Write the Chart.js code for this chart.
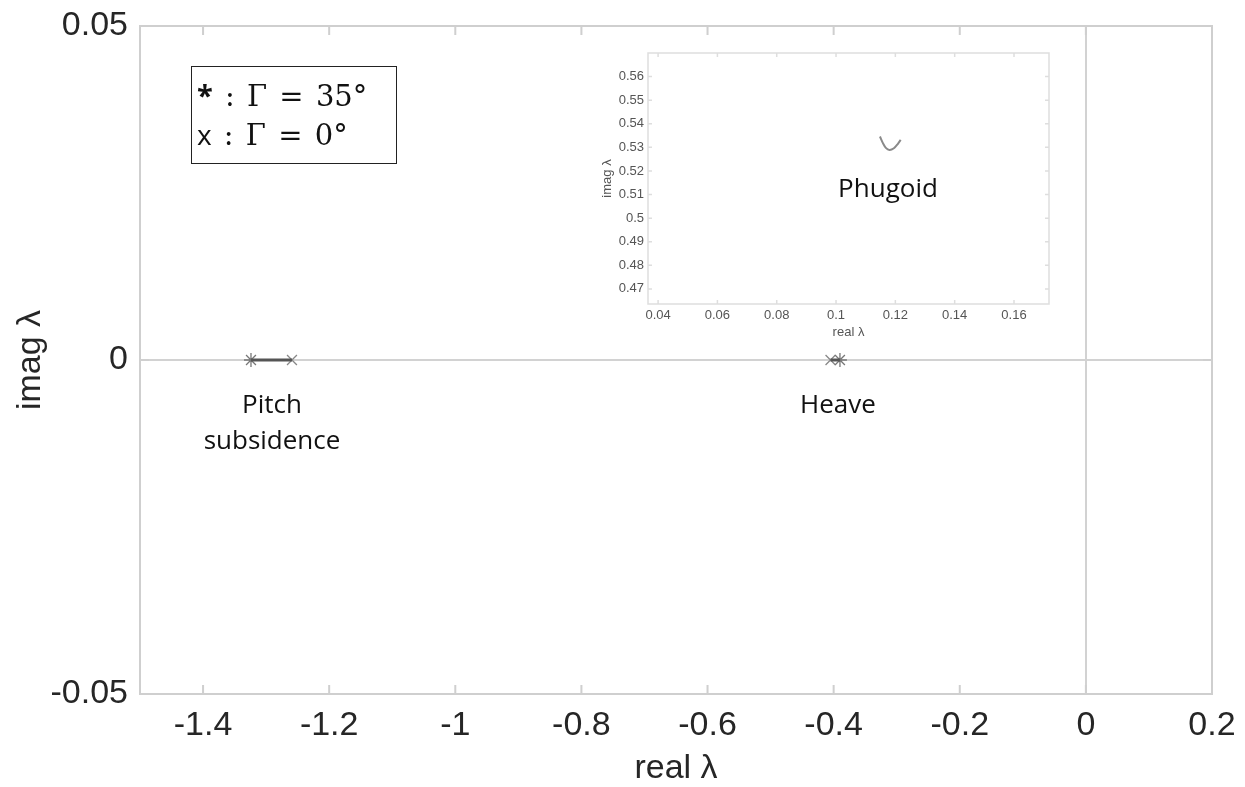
<!DOCTYPE html>
<html lang="en">
<head>
    <meta charset="UTF-8">
    <title>Longitudinal eigenvalues</title>
    <script src="https://cdn.jsdelivr.net/npm/chart.js"></script>
    <style>
        body { margin: 0; background: #fff; }
        #wrap { position: relative; width: 1245px; height: 787px; }
        #inset { position: absolute; left: 590px; top: 40px; }
        .note { position: absolute; font-family: "Open Sans", sans-serif; font-size: 26px; color: #111; text-align: center; line-height: 36px; white-space: nowrap; }
        #legendBox { position: absolute; left: 191px; top: 66px; width: 206px; height: 98px; box-sizing: border-box;
                     border: 1.5px solid #222; font-family: "DejaVu Serif", serif; font-size: 29px; color: #111;
                     padding: 9px 0 0 5px; line-height: 38px; white-space: nowrap; word-spacing: 3px; }
        #legendBox .sym { font-family: "Open Sans", sans-serif; }
    </style>
</head>
<body>
<div id="wrap">
    <canvas id="mainChart" width="1245" height="787"></canvas>
    <canvas id="inset" width="470" height="310"></canvas>
    <div id="legendBox"><div><b class="sym">*</b> : Γ = 35°</div><div><span class="sym" style="font-size:28px">x</span> : Γ = 0°</div></div>
    <div class="note" style="left:196px; top:385px; width:152px;">Pitch<br>subsidence</div>
    <div class="note" style="left:788px; top:385px; width:100px;">Heave</div>
    <div class="note" style="left:830px; top:169px; width:116px;">Phugoid</div>
</div>

<script>
    // real parts of the non-oscillatory modes (imag = 0)
    const modes = ['Pitch subsidence', 'Heave'];
    const realAt35 = [-1.324, -0.390];   // '*' markers, Gamma = 35 deg
    const realAt0 = [-1.259, -0.405];    // 'x' markers, Gamma = 0 deg

    // phugoid locus shown in the inset
    const phugoidReal = [0.1148, 0.1158, 0.1168, 0.1180, 0.1195, 0.1208, 0.1218];
    const phugoidImag = [0.5346, 0.5318, 0.5298, 0.5289, 0.5296, 0.5314, 0.5332];

    const xTicks = [-1.4, -1.2, -1, -0.8, -0.6, -0.4, -0.2, 0, 0.2];
    const yTicks = [-0.05, 0, 0.05];
    const insetXTicks = [0.04, 0.06, 0.08, 0.1, 0.12, 0.14, 0.16];
    const insetYTicks = [0.47, 0.48, 0.49, 0.5, 0.51, 0.52, 0.53, 0.54, 0.55, 0.56];

    const fmt = v => String(+v.toFixed(3));

    // MATLAB-like box with inward ticks on all four sides
    const boxTicks = {
        id: 'boxTicks',
        afterDatasetsDraw(chart, args, opts) {
            const { ctx, chartArea: a, scales: { x, y } } = chart;
            ctx.save();
            ctx.strokeStyle = opts.color;
            ctx.lineWidth = opts.width;
            ctx.beginPath();
            x.ticks.forEach(t => {
                const px = x.getPixelForValue(t.value);
                ctx.moveTo(px, a.bottom); ctx.lineTo(px, a.bottom - opts.len);
                ctx.moveTo(px, a.top); ctx.lineTo(px, a.top + opts.len);
            });
            y.ticks.forEach(t => {
                const py = y.getPixelForValue(t.value);
                ctx.moveTo(a.left, py); ctx.lineTo(a.left + opts.len, py);
                ctx.moveTo(a.right, py); ctx.lineTo(a.right - opts.len, py);
            });
            ctx.stroke();
            ctx.strokeRect(a.left, a.top, a.right - a.left, a.bottom - a.top);
            ctx.restore();
        }
    };

    const zeroLine = ctx => (ctx.tick && ctx.tick.value === 0) ? '#d2d2d2' : 'rgba(0,0,0,0)';
    const mainFont = { family: '"Liberation Sans", Arial, sans-serif', size: 34 };

    new Chart(document.getElementById('mainChart'), {
        type: 'scatter',
        data: {
            datasets: [
                ...modes.map((m, i) => ({
                    label: m,
                    data: [{ x: realAt35[i], y: 0 }, { x: realAt0[i], y: 0 }],
                    showLine: true, borderColor: '#555', borderWidth: 3, pointRadius: 0
                })),
                {
                    label: 'Gamma = 35',
                    data: realAt35.map(v => ({ x: v, y: 0 })),
                    pointStyle: 'star', pointRadius: 7, borderColor: '#777', borderWidth: 1.3, backgroundColor: '#777'
                },
                {
                    label: 'Gamma = 0',
                    data: realAt0.map(v => ({ x: v, y: 0 })),
                    pointStyle: 'crossRot', pointRadius: 7, borderColor: '#888', borderWidth: 1.3, backgroundColor: '#888'
                }
            ]
        },
        options: {
            responsive: false,
            animation: false,
            layout: { padding: { left: 0, top: 26, right: 33, bottom: 0 } },
            plugins: {
                legend: { display: false },
                tooltip: { enabled: false },
                boxTicks: { color: '#cfcfcf', width: 2, len: 9 }
            },
            scales: {
                x: {
                    type: 'linear', min: -1.5, max: 0.2,
                    afterBuildTicks: s => { s.ticks = xTicks.map(v => ({ value: v })); },
                    afterFit: s => { s.height = 93; s.paddingLeft = 0; s.paddingRight = 0; },
                    grid: { color: zeroLine, lineWidth: 2, drawTicks: false },
                    border: { display: false },
                    ticks: { callback: fmt, font: mainFont, color: '#262626', padding: 11, maxRotation: 0, autoSkip: false },
                    title: { display: true, text: 'real λ', font: mainFont, color: '#262626', padding: { top: 0, bottom: -2 } }
                },
                y: {
                    type: 'linear', min: -0.05, max: 0.05,
                    afterBuildTicks: s => { s.ticks = yTicks.map(v => ({ value: v })); },
                    afterFit: s => { s.width = 140; s.paddingTop = 0; s.paddingBottom = 0; },
                    grid: { color: zeroLine, lineWidth: 2, drawTicks: false },
                    border: { display: false },
                    ticks: { callback: fmt, font: mainFont, color: '#262626', padding: 12 },
                    title: { display: true, text: 'imag λ', font: mainFont, color: '#262626', padding: { top: 10, bottom: 0 } }
                }
            }
        },
        plugins: [boxTicks]
    });

    const insetFont = { family: '"Liberation Sans", Arial, sans-serif', size: 13 };

    new Chart(document.getElementById('inset'), {
        type: 'scatter',
        data: {
            datasets: [{
                label: 'Phugoid',
                data: phugoidReal.map((v, i) => ({ x: v, y: phugoidImag[i] })),
                showLine: true, borderColor: '#8a8a8a', borderWidth: 2, pointRadius: 0, tension: 0.3
            }]
        },
        options: {
            responsive: false,
            animation: false,
            layout: { padding: { left: 0, top: 13, right: 11, bottom: 0 } },
            plugins: {
                legend: { display: false },
                tooltip: { enabled: false },
                boxTicks: { color: '#dedede', width: 1.5, len: 4 }
            },
            scales: {
                x: {
                    type: 'linear', min: 0.0366, max: 0.1718,
                    afterBuildTicks: s => { s.ticks = insetXTicks.map(v => ({ value: v })); },
                    afterFit: s => { s.height = 46; },
                    grid: { display: false, drawTicks: false },
                    border: { display: false },
                    ticks: { callback: fmt, font: insetFont, color: '#555', padding: 4, maxRotation: 0, autoSkip: false },
                    title: { display: true, text: 'real λ', font: insetFont, color: '#555', padding: { top: 0, bottom: 10 } }
                },
                y: {
                    type: 'linear', min: 0.4636, max: 0.570,
                    afterBuildTicks: s => { s.ticks = insetYTicks.map(v => ({ value: v })); },
                    afterFit: s => { s.width = 58; },
                    grid: { display: false, drawTicks: false },
                    border: { display: false },
                    ticks: { callback: fmt, font: insetFont, color: '#555', padding: 4, autoSkip: false },
                    title: { display: true, text: 'imag λ', font: insetFont, color: '#555', padding: { top: 10, bottom: 0 } }
                }
            }
        },
        plugins: [boxTicks]
    });
</script>
</body>
</html>
